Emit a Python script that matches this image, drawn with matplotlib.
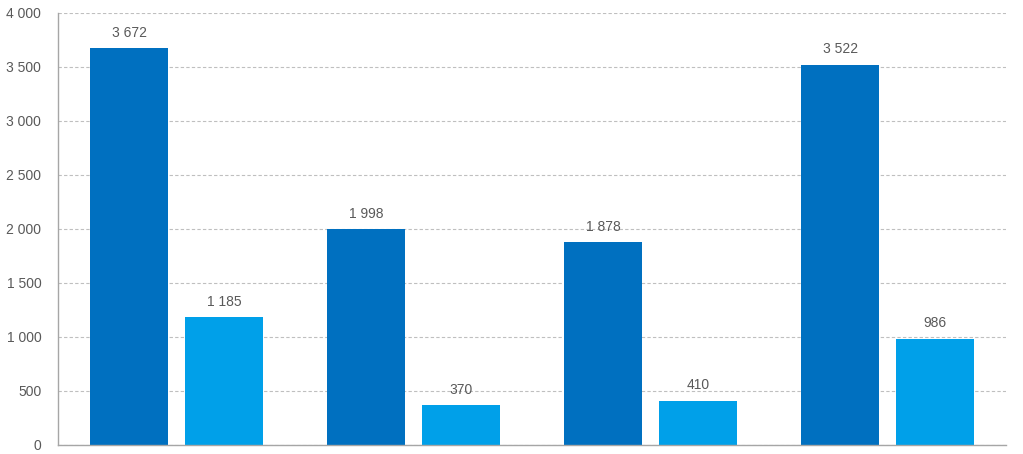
import matplotlib
matplotlib.use("Agg")
import matplotlib.pyplot as plt
import numpy as np

groups = ["A", "B", "C", "D"]
series_dark = [3672, 1998, 1878, 3522]
series_light = [1185, 370, 410, 986]
yticks = [0, 500, 1000, 1500, 2000, 2500, 3000, 3500, 4000]


def fmt(v):
    return f"{v:,}".replace(",", " ")


plt.rcParams["font.family"] = ["Liberation Sans", "DejaVu Sans"]

fig = plt.figure(figsize=(10.23, 4.54), dpi=100)
ax = fig.add_axes([58 / 1023, 9 / 454, 948 / 1023, 432 / 454])

x = np.arange(len(groups))
w = 0.33
b1 = ax.bar(x - 0.2, series_dark, width=w, color="#0070C0", zorder=2)
b2 = ax.bar(x + 0.2, series_light, width=w, color="#00A0E9", zorder=2)

for bars, vals in ((b1, series_dark), (b2, series_light)):
    for r, v in zip(bars, vals):
        ax.annotate(fmt(v), (r.get_x() + r.get_width() / 2, v),
                    xytext=(0, 6), textcoords="offset points",
                    ha="center", va="bottom", fontsize=10, color="#595959")

ax.set_xlim(-0.5, 3.5)
ax.set_ylim(0, 4000)
ax.set_yticks(yticks)
ax.set_yticklabels([fmt(v) for v in yticks], fontsize=10, color="#595959")
ax.set_xticks([])
ax.tick_params(axis="y", length=0, pad=12)
ax.yaxis.grid(True, color="#BFBFBF", linestyle=(0, (3, 2)), linewidth=0.8, zorder=0)
for s in ("top", "right"):
    ax.spines[s].set_visible(False)
for s in ("left", "bottom"):
    ax.spines[s].set_color("#A6A6A6")
    ax.spines[s].set_linewidth(1)

fig.savefig("out.png", dpi=100, facecolor="white")
